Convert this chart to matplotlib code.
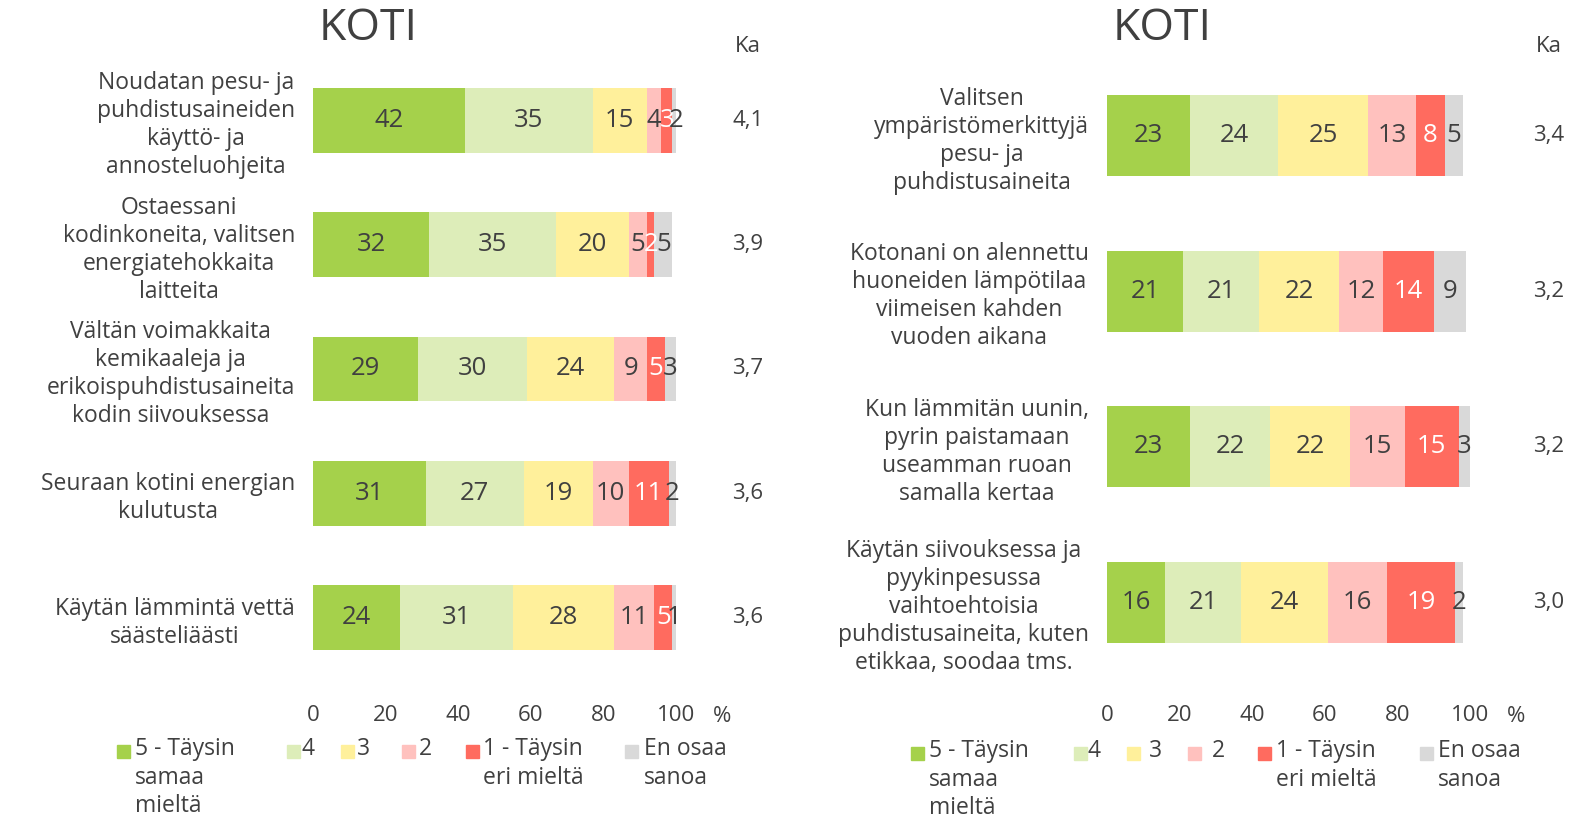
import matplotlib
matplotlib.use("Agg")
import matplotlib.pyplot as plt
from matplotlib.patches import Rectangle

plt.rcParams['font.family'] = ['Open Sans', 'DejaVu Sans']

# Data
vastaukset = ['5 - Täysin\nsamaa\nmieltä', '4', '3', '2', '1 - Täysin\neri mieltä', 'En osaa\nsanoa']
varit = ['#A5D14B', '#DDEDB9', '#FFF09B', '#FFC1BE', '#FF6B5F', '#D9D9D9']
tekstivarit = ['#404040', '#404040', '#404040', '#404040', 'white', '#404040']

vasen_kysymykset = [
    'Noudatan pesu- ja\npuhdistusaineiden\nkäyttö- ja\nannosteluohjeita',
    'Ostaessani\nkodinkoneita, valitsen\nenergiatehokkaita\nlaitteita',
    'Vältän voimakkaita\nkemikaaleja ja\nerikoispuhdistusaineita\nkodin siivouksessa',
    'Seuraan kotini energian\nkulutusta',
    'Käytän lämmintä vettä\nsäästeliäästi',
]
vasen_arvot = [
    [42, 35, 15, 4, 3, 2],
    [32, 35, 20, 5, 2, 5],
    [29, 30, 24, 9, 5, 3],
    [31, 27, 19, 10, 11, 2],
    [24, 31, 28, 11, 5, 1],
]
vasen_ka = ['4,1', '3,9', '3,7', '3,6', '3,6']

oikea_kysymykset = [
    'Valitsen\nympäristömerkittyjä\npesu- ja\npuhdistusaineita',
    'Kotonani on alennettu\nhuoneiden lämpötilaa\nviimeisen kahden\nvuoden aikana',
    'Kun lämmitän uunin,\npyrin paistamaan\nuseamman ruoan\nsamalla kertaa',
    'Käytän siivouksessa ja\npyykinpesussa\nvaihtoehtoisia\npuhdistusaineita, kuten\netikkaa, soodaa tms.',
]
oikea_arvot = [
    [23, 24, 25, 13, 8, 5],
    [21, 21, 22, 12, 14, 9],
    [23, 22, 22, 15, 15, 3],
    [16, 21, 24, 16, 19, 2],
]
oikea_ka = ['3,4', '3,2', '3,2', '3,0']

W, H = 1573, 819
fig = plt.figure(figsize=(W / 100, H / 100), dpi=100)
harmaa = '#404040'


def piirra(x0, kysymykset, arvot, ka, title_x):
    ax = fig.add_axes([x0 / W, (H - 680) / H, 363 / W, 622 / H])
    n = len(kysymykset)
    y = list(range(n))
    vasen = [0] * n
    for j in range(len(vastaukset)):
        sarja = [r[j] for r in arvot]
        bars = ax.barh(y, sarja, left=vasen, height=0.52, color=varit[j], edgecolor='none')
        for b, v in zip(bars, sarja):
            ax.text(b.get_x() + b.get_width() / 2, b.get_y() + b.get_height() / 2, str(v),
                    ha='center', va='center', fontsize=18.5, color=tekstivarit[j])
        vasen = [a + b for a, b in zip(vasen, sarja)]
    ax.set_xlim(0, 100)
    ax.set_ylim(n - 0.5, -0.5)
    ax.set_xticks([0, 20, 40, 60, 80, 100])
    ax.set_yticks(y)
    ax.set_yticklabels(kysymykset, multialignment='center', fontsize=16.5, color=harmaa,
                       linespacing=1.22)
    ax.tick_params(axis='y', length=0, pad=13)
    ax.tick_params(axis='x', length=0, pad=18, labelsize=16, labelcolor=harmaa)
    for s in ax.spines.values():
        s.set_visible(False)
    tr = ax.get_yaxis_transform()
    ka_x = (title_x[1] - x0) / 363
    for i, k in enumerate(ka):
        ax.text(ka_x, i, k, transform=tr, ha='center', va='center', fontsize=16, color=harmaa, clip_on=False)
    ax.text(ka_x, (680 - 46) / 622, 'Ka', transform=ax.transAxes, ha='center', va='center',
            fontsize=16, color=harmaa)
    ax.text(1.127, -(716 - 680) / 622, '%', transform=ax.transAxes, ha='center', va='center',
            fontsize=16, color=harmaa)
    fig.text(title_x[0] / W, 1 - 29 / H, 'KOTI', ha='center', va='center', fontsize=32, color=harmaa)
    return ax


piirra(313, vasen_kysymykset, vasen_arvot, vasen_ka, (368, 748))
piirra(1107, oikea_kysymykset, oikea_arvot, oikea_ka, (1162, 1549))


def selite(x_ruudut, x_tekstit, y0):
    for xr, xt, lab, c in zip(x_ruudut, x_tekstit, vastaukset, varit):
        fig.patches.append(Rectangle((xr / W, 1 - (y0 + 5) / H), 13 / W, 13 / H,
                                     transform=fig.transFigure, color=c))
        fig.text(xt / W, 1 - (y0 - 16) / H, lab, ha='left', va='top', fontsize=16.5,
                 color=harmaa, linespacing=1.25)


selite([117, 287, 341, 402, 466, 625], [135, 302, 357, 419, 483, 644], 753)
selite([911, 1074, 1127, 1188, 1258, 1420], [929, 1088, 1149, 1212, 1276, 1438], 755)

fig.savefig('out.png', dpi=100)
